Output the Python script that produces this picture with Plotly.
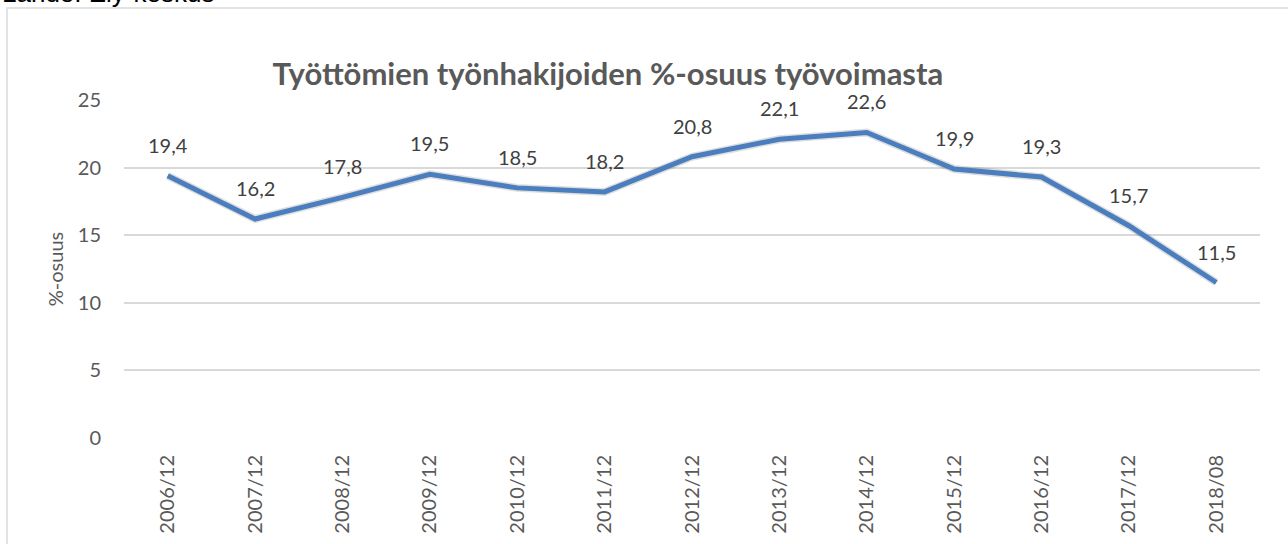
import plotly.graph_objects as go

# data
periods = ["2006/12", "2007/12", "2008/12", "2009/12", "2010/12", "2011/12", "2012/12",
           "2013/12", "2014/12", "2015/12", "2016/12", "2017/12", "2018/08"]
share = [19.4, 16.2, 17.8, 19.5, 18.5, 18.2, 20.8, 22.1, 22.6, 19.9, 19.3, 15.7, 11.5]
y_ticks = [0, 5, 10, 15, 20, 25]

LINE = "#4a7ebe"
GREY = "#595959"
FONT = "Lato, 'Open Sans', sans-serif"

fig = go.Figure()
# soft shadow under the line, then the line itself on an overlaid axis (drawn on top)
fig.add_trace(go.Scatter(x=periods, y=share, mode="lines",
                         line=dict(color="rgba(0,0,0,0.13)", width=8),
                         hoverinfo="skip", showlegend=False))
fig.add_trace(go.Scatter(x=periods, y=share, mode="lines", yaxis="y2",
                         line=dict(color=LINE, width=5), showlegend=False))

for p, v in zip(periods, share):
    fig.add_annotation(x=p, y=v, text=f"{v:.1f}".replace(".", ","), showarrow=False,
                       yshift=31, font=dict(size=20, color="#404040", family=FONT))

fig.update_layout(
    width=1288, height=544,
    margin=dict(l=124, r=28, t=100, b=106),
    paper_bgcolor="white", plot_bgcolor="white",
    font=dict(family=FONT, color=GREY, size=20),
    title=dict(text="<b>Työttömien työnhakijoiden %-osuus työvoimasta</b>",
               x=0.472, xanchor="center", y=0.864, yanchor="middle",
               font=dict(size=31, color=GREY, family=FONT)),
    xaxis=dict(type="category", range=[-0.5, 12.5], tickangle=-90, showgrid=False,
               ticks="", showline=False, automargin=False, ticklabelstandoff=12,
               tickfont=dict(size=20, color=GREY)),
    yaxis=dict(range=[0, 25], tickvals=y_ticks, gridcolor="#d9d9d9", gridwidth=1.5,
               zeroline=False, ticks="", showline=False, automargin=False,
               tickfont=dict(size=20, color=GREY), ticklabelstandoff=22,
               title=dict(text="%-osuus", font=dict(size=20, color=GREY), standoff=8)),
    yaxis2=dict(range=[0, 25], overlaying="y", visible=False),
)

# chart frame
fig.add_shape(type="rect", xref="paper", yref="paper", x0=-0.103, x1=1.03, y0=-0.35, y1=1.272,
              line=dict(color="#d9d9d9", width=1.5), layer="below")
fig.add_annotation(text="Lähde: Ely-keskus", xref="paper", yref="paper", x=-0.109, y=1.265,
                   xanchor="left", yanchor="bottom", showarrow=False,
                   font=dict(family="Liberation Sans, Arial", size=26, color="black"))

# page body margin would shift the figure by 8px
fig.write_html("out.html", config={"displayModeBar": False},
               post_script="document.body.style.margin='0';")
